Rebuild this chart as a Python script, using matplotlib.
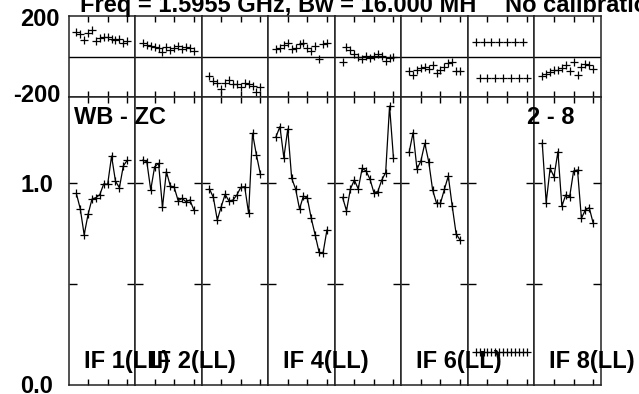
import matplotlib
matplotlib.use("Agg")
import matplotlib.pyplot as plt

plt.rcParams['font.family'] = ['Liberation Sans', 'DejaVu Sans']

channels = [2, 3, 4, 5, 6, 7, 8, 9, 10, 11, 12, 13, 14, 15]

amp_if1 = [0.95, 0.874, 0.745, 0.846, 0.922, 0.929, 0.944, 0.997, 0.995, 1.135, 1.01, 0.978, 1.086, 1.114]
amp_if2 = [1.115, 1.107, 0.967, 1.082, 1.099, 0.881, 1.058, 0.987, 0.980, 0.914, 0.925, 0.909, 0.917, 0.868]
amp_if3 = [0.972, 0.930, 0.818, 0.884, 0.945, 0.912, 0.917, 0.942, 0.980, 0.983, 0.851, 1.248, 1.140, 1.046]
amp_if4 = [1.231, 1.281, 1.127, 1.269, 1.025, 0.972, 0.873, 0.937, 0.926, 0.826, 0.744, 0.658, 0.653, 0.768]
amp_if5 = [0.930, 0.864, 0.972, 1.016, 0.972, 1.074, 1.061, 1.020, 0.954, 0.959, 1.016, 1.053, 1.383, 1.124]
amp_if6 = [1.154, 1.251, 1.071, 1.111, 1.198, 1.107, 0.967, 0.901, 0.901, 0.970, 1.036, 0.887, 0.749, 0.719]
amp_if7 = [0.166, 0.165, 0.164, 0.165, 0.166, 0.165, 0.165, 0.164, 0.165, 0.165, 0.166, 0.165, 0.164, 0.165]
amp_if8 = [1.198, 0.904, 1.074, 1.033, 1.157, 0.887, 0.942, 0.934, 1.061, 1.066, 0.826, 0.868, 0.879, 0.802]

ph_if1 = [119, 109, 81, 114, 130, 78, 92, 97, 94, 85, 81, 85, 68, 78]
ph_if2 = [65, 55, 52, 48, 40, 24, 48, 32, 40, 52, 35, 45, 40, 27]
ph_if3 = [-96, -119, -129, -161, -129, -116, -135, -135, -149, -129, -135, -145, -173, -152]
ph_if4 = [35, 40, 55, 65, 35, 40, 60, 65, 40, 29, 52, -14, 62, 68]
ph_if5 = [-25, 45, 32, 10, -3, -14, 3, -9, 2, 12, 4, -21, -6, -4]
ph_if6 = [-71, -91, -66, -58, -53, -63, -42, -83, -66, -50, -34, -25, -70, -70]
ph_if7 = [73, -107, 73, -107, 73, -107, 73, -107, 73, -107, 73, -107, 73, -107]
ph_if8 = [-96, -88, -78, -66, -66, -55, -42, -70, -25, -91, -50, -37, -42, -60]

amps = [amp_if1, amp_if2, amp_if3, amp_if4, amp_if5, amp_if6, amp_if7, amp_if8]
phases = [ph_if1, ph_if2, ph_if3, ph_if4, ph_if5, ph_if6, ph_if7, ph_if8]
if_labels = ["IF 1(LL)", "IF 2(LL)", "", "IF 4(LL)", "", "IF 6(LL)", "", "IF 8(LL)"]
connect = [True, True, True, True, True, True, False, True]

title_left = "Freq = 1.5955 GHz, Bw = 16.000 MH"
title_right = "No calibration"
baseline_label = "WB - ZC"
source_label = "2 - 8"

W, H = 639, 394
fig = plt.figure(figsize=(W / 100, H / 100), dpi=100)

left_px, right_px = 68.5, 601.0
ph_top, ph_bot, amp_bot = 16.0, 97.0, 385.0
pw = (right_px - left_px) / 8

def fx(px):
    return px / W

def fy(py):
    return 1 - py / H

FS = 17
for i in range(8):
    x0 = left_px + i * pw
    axp = fig.add_axes([fx(x0), fy(ph_bot), pw / W, (ph_bot - ph_top) / H])
    axa = fig.add_axes([fx(x0), fy(amp_bot), pw / W, (amp_bot - ph_bot) / H])
    for ax in (axp, axa):
        ax.set_xlim(0, 17)
        ax.set_xticks([5, 10, 15])
        ax.tick_params(axis='x', direction='in', top=True, bottom=True, length=4,
                       width=1, labelbottom=False)
        for s in ax.spines.values():
            s.set_linewidth(1.1)
            s.set_color('#222222')
    axp.set_ylim(-200, 200)
    axp.set_yticks([])
    axp.axhline(0, color='black', lw=1.0)
    axp.plot(channels, phases[i], ls='none', marker='+', ms=6, mew=0.9, color='black')

    axa.set_ylim(0, (amp_bot - ph_bot) / 201.7)
    axa.set_yticks([0.5, 1.0])
    axa.tick_params(axis='y', direction='in', left=True, right=True, length=6,
                    width=1, labelleft=False)
    axa.plot(channels, amps[i], ls='-' if connect[i] else 'none', lw=0.9,
             marker='+', ms=6, mew=0.9, color='black')
    if if_labels[i]:
        fig.text(fx(x0 + 15), fy(368), if_labels[i], fontsize=FS, fontweight='bold',
                 ha='left', va='baseline')

fig.text(fx(80), fy(12), title_left, fontsize=FS, fontweight='bold', ha='left', va='baseline')
fig.text(fx(505), fy(12), title_right, fontsize=FS, fontweight='bold', ha='left', va='baseline')
fig.text(fx(74), fy(124), baseline_label, fontsize=FS, fontweight='bold', ha='left', va='baseline')
fig.text(fx(527), fy(124), source_label, fontsize=FS, fontweight='bold', ha='left', va='baseline')

fig.text(fx(60), fy(20), "200", fontsize=FS, fontweight='bold', ha='right', va='center')
fig.text(fx(60), fy(96), "-200", fontsize=FS, fontweight='bold', ha='right', va='center')
fig.text(fx(53), fy(185), "1.0", fontsize=FS, fontweight='bold', ha='right', va='center')
fig.text(fx(53), fy(386.5), "0.0", fontsize=FS, fontweight='bold', ha='right', va='center')

fig.savefig("out.png", dpi=100)
